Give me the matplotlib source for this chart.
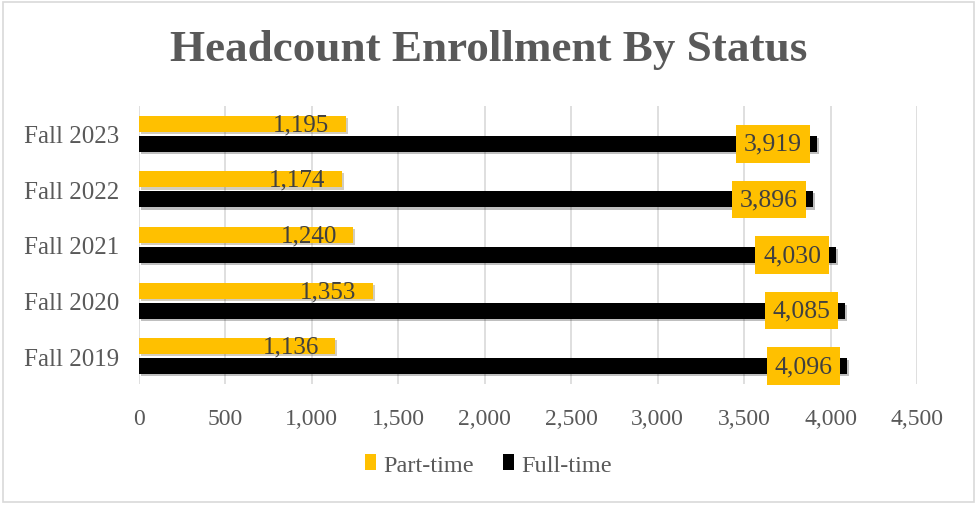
import numpy as np
import matplotlib.pyplot as plt
import matplotlib.patheffects as pe

# chart data
terms = ["Fall 2019", "Fall 2020", "Fall 2021", "Fall 2022", "Fall 2023"]
part_time = [1136, 1353, 1240, 1174, 1195]
full_time = [4096, 4085, 4030, 3896, 3919]
x_ticks = [0, 500, 1000, 1500, 2000, 2500, 3000, 3500, 4000, 4500]

GOLD = "#FFC000"
TXT = "#595959"

plt.rcParams['font.family'] = ['Liberation Serif', 'DejaVu Serif']

fig = plt.figure(figsize=(9.77, 5.06), dpi=100)
ax = fig.add_axes([139 / 977, 1 - 385 / 506, (917 - 139) / 977, (385 - 107) / 506])

y = np.arange(len(terms))
h = 0.29
shadow = [pe.SimplePatchShadow(offset=(1.5, -1.5), alpha=0.25), pe.Normal()]

pt_bars = ax.barh(y + 0.18, part_time, height=h, color=GOLD, label="Part-time", zorder=3)
ft_bars = ax.barh(y - 0.18, full_time, height=h, color="black", label="Full-time", zorder=3)

for yi, v in zip(y, part_time):
    ax.text(v - 95, yi + 0.17, f"{v:,}", ha="right", va="center",
            fontsize=18, color="#404040", zorder=5)
for yi, v in zip(y, full_time):
    ax.text(v - 85, yi - 0.18, f"{v:,}", ha="right", va="center",
            fontsize=18.5, color="#404040", zorder=5,
            bbox=dict(boxstyle="square,pad=0.3", fc=GOLD, ec="none"))

ax.set_xlim(0, 4500)
ax.set_ylim(-0.5, len(terms) - 0.5)
ax.set_xticks(x_ticks)
ax.set_xticklabels([f"{t:,}" for t in x_ticks], fontsize=17, color=TXT)
ax.set_yticks(y)
ax.set_yticklabels(terms, fontsize=18, color=TXT)
ax.tick_params(length=0, pad=14)
ax.tick_params(axis="x", pad=17)
ax.grid(axis="x", color="#D9D9D9", lw=1.2, zorder=0)
for s in ax.spines.values():
    s.set_visible(False)

fig.text(0.5, 1 - 50 / 506, "Headcount Enrollment By Status", ha="center", va="center",
         fontsize=32.5, fontweight="bold", color=TXT)

ax.legend(loc="center", bbox_to_anchor=(0.5, 1 - 466 / 506), bbox_transform=fig.transFigure,
          ncol=2, frameon=False, fontsize=17.5, labelcolor=TXT,
          handlelength=0.45, handleheight=0.6, handletextpad=0.3, columnspacing=1.2)

# drop shadows on the bars only (added after the legend so its keys stay flat)
for b in list(pt_bars) + list(ft_bars):
    b.set_path_effects(shadow)

# chart border
fig.patches.append(plt.Rectangle((0.003, 0.005), 0.994, 0.99, transform=fig.transFigure,
                                 fill=False, ec="#D9D9D9", lw=1.2))

fig.savefig("out.png", dpi=100)
